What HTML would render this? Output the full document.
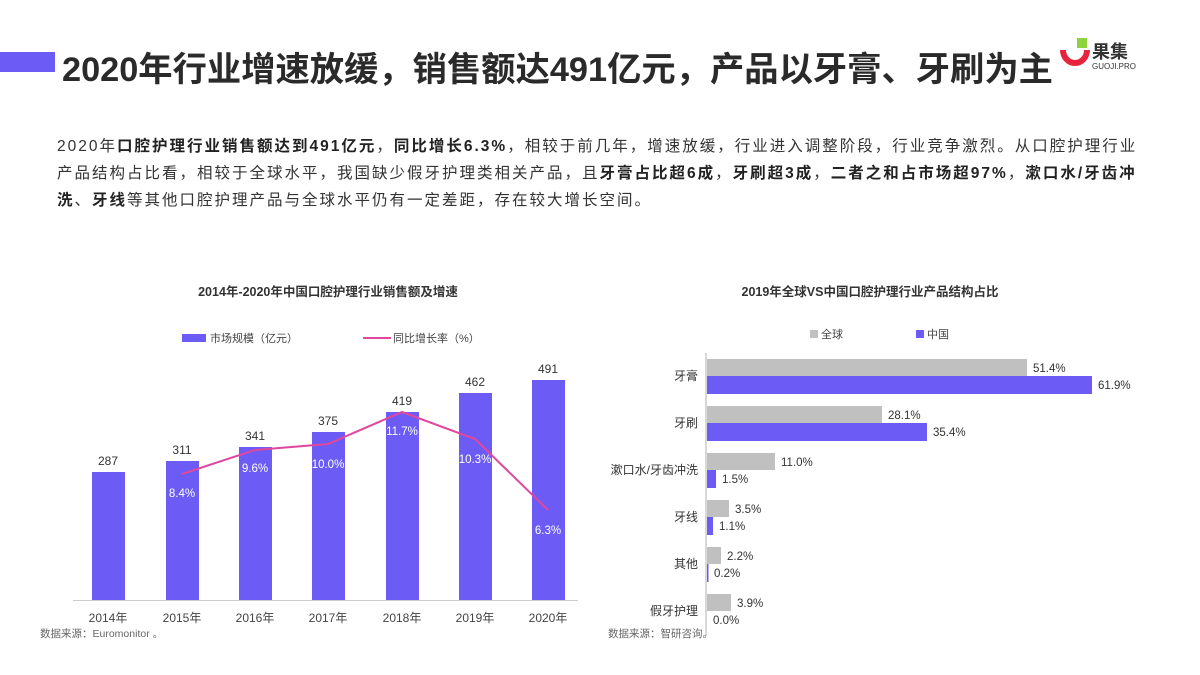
<!DOCTYPE html>
<html><head><meta charset="utf-8"><style>
body{margin:0;width:1200px;height:675px;background:#fff;overflow:hidden;font-family:"Liberation Sans","Noto Sans CJK SC",sans-serif;position:relative;color:#333}
.a{position:absolute;white-space:nowrap}
b{font-weight:bold;color:#222}
</style></head><body>
<div class="a" style="left:0;top:52px;width:55px;height:20px;background:#6c5cf5"></div>
<div class="a" style="left:62px;top:41px;font-size:34.3px;font-weight:bold;color:#2a2a2a;letter-spacing:0px">2020年行业增速放缓，销售额达491亿元，产品以牙膏、牙刷为主</div>
<svg class="a" style="left:1060px;top:38px" width="30" height="40" viewBox="0 0 30 40"><rect x="17" y="0" width="10" height="10" fill="#8fd13f"/><path d="M3 12 A12 13 0 0 0 27 12" stroke="#e8243c" stroke-width="6" fill="none"/></svg>
<div class="a" style="left:1092px;top:38px;font-size:18px;font-weight:bold;color:#333">果集</div>
<div class="a" style="left:1092px;top:62px;font-size:8px;color:#333">GUOJI.PRO</div>
<div class="a" style="left:57px;top:133px;font-size:15.5px;line-height:27px;letter-spacing:2px">2020年<b>口腔护理行业销售额达到491亿元</b>，<b>同比增长6.3%</b>，相较于前几年，增速放缓，行业进入调整阶段，行业竞争激烈。从口腔护理行业<br>产品结构占比看，相较于全球水平，我国缺少假牙护理类相关产品，且<b>牙膏占比超6成</b>，<b>牙刷超3成</b>，<b>二者之和占市场超97%</b>，<b>漱口水/牙齿冲</b><br><b>洗</b>、<b>牙线</b>等其他口腔护理产品与全球水平仍有一定差距，存在较大增长空间。</div>

<svg class="a" style="left:0;top:0" width="1200" height="675" font-family="Liberation Sans, Noto Sans CJK SC, sans-serif">
<text x="328" y="296" font-size="12.5" font-weight="bold" text-anchor="middle" fill="#333">2014年-2020年中国口腔护理行业销售额及增速</text>
<rect x="182" y="334" width="24" height="8" fill="#6c5cf5"/><text x="210" y="342" font-size="11" fill="#444">市场规模（亿元）</text>
<line x1="363" y1="338" x2="391" y2="338" stroke="#e0479e" stroke-width="2"/><text x="393" y="342" font-size="11" fill="#444">同比增长率（%）</text>
<g fill="#6c5cf5">
<rect x="92" y="472" width="33" height="128"/><rect x="166" y="461" width="33" height="139"/><rect x="239" y="447" width="33" height="153"/><rect x="312" y="432" width="33" height="168"/><rect x="386" y="412" width="33" height="188"/><rect x="459" y="393" width="33" height="207"/><rect x="532" y="380" width="33" height="220"/>
</g>
<line x1="73" y1="600.5" x2="578" y2="600.5" stroke="#ccc"/>
<g font-size="12" text-anchor="middle" fill="#333">
<text x="108" y="465">287</text><text x="182" y="454">311</text><text x="255" y="440">341</text><text x="328" y="425">375</text><text x="402" y="405">419</text><text x="475" y="386">462</text><text x="548" y="373">491</text>
</g>
<polyline points="182,474 255,450 328,444 402,412 475,439 548,510" fill="none" stroke="#e0479e" stroke-width="2"/>
<g font-size="11.5" text-anchor="middle" fill="#fff">
<text x="182" y="497">8.4%</text><text x="255" y="472">9.6%</text><text x="328" y="468">10.0%</text><text x="402" y="435">11.7%</text><text x="475" y="463">10.3%</text><text x="548" y="534">6.3%</text>
</g>
<g font-size="12" text-anchor="middle" fill="#444">
<text x="108" y="622">2014年</text><text x="182" y="622">2015年</text><text x="255" y="622">2016年</text><text x="328" y="622">2017年</text><text x="402" y="622">2018年</text><text x="475" y="622">2019年</text><text x="548" y="622">2020年</text>
</g>
<text x="40" y="637" font-size="10.5" fill="#666">数据来源：Euromonitor 。</text>

<text x="870" y="296" font-size="12.5" font-weight="bold" text-anchor="middle" fill="#333">2019年全球VS中国口腔护理行业产品结构占比</text>
<rect x="810" y="330" width="8" height="8" fill="#c0c0c0"/><text x="821" y="338" font-size="11" fill="#444">全球</text>
<rect x="916" y="330" width="8" height="8" fill="#6c5cf5"/><text x="927" y="338" font-size="11" fill="#444">中国</text>
<line x1="706" y1="353" x2="706" y2="636" stroke="#ccc" stroke-width="1.5"/>
<g fill="#c0c0c0">
<rect x="707" y="359" width="320" height="17"/><rect x="707" y="406" width="175" height="17"/><rect x="707" y="453" width="68" height="17"/><rect x="707" y="500" width="22" height="17"/><rect x="707" y="547" width="14" height="17"/><rect x="707" y="594" width="24" height="17"/>
</g>
<g fill="#6c5cf5">
<rect x="707" y="376" width="385" height="18"/><rect x="707" y="423" width="220" height="18"/><rect x="707" y="470" width="9" height="18"/><rect x="707" y="517" width="6" height="18"/><rect x="707" y="564" width="1.5" height="18"/>
</g>
<g font-size="11.5" fill="#333">
<text x="1033" y="372">51.4%</text><text x="1098" y="389">61.9%</text>
<text x="888" y="419">28.1%</text><text x="933" y="436">35.4%</text>
<text x="781" y="466">11.0%</text><text x="722" y="483">1.5%</text>
<text x="735" y="513">3.5%</text><text x="719" y="530">1.1%</text>
<text x="727" y="560">2.2%</text><text x="714" y="577">0.2%</text>
<text x="737" y="607">3.9%</text><text x="713" y="624">0.0%</text>
</g>
<g font-size="12" text-anchor="end" fill="#333">
<text x="698" y="380">牙膏</text><text x="698" y="427">牙刷</text><text x="698" y="474">漱口水/牙齿冲洗</text><text x="698" y="521">牙线</text><text x="698" y="568">其他</text><text x="698" y="615">假牙护理</text>
</g>
<text x="608" y="637" font-size="10.5" fill="#666">数据来源：智研咨询。</text>
</svg>
</body></html>
